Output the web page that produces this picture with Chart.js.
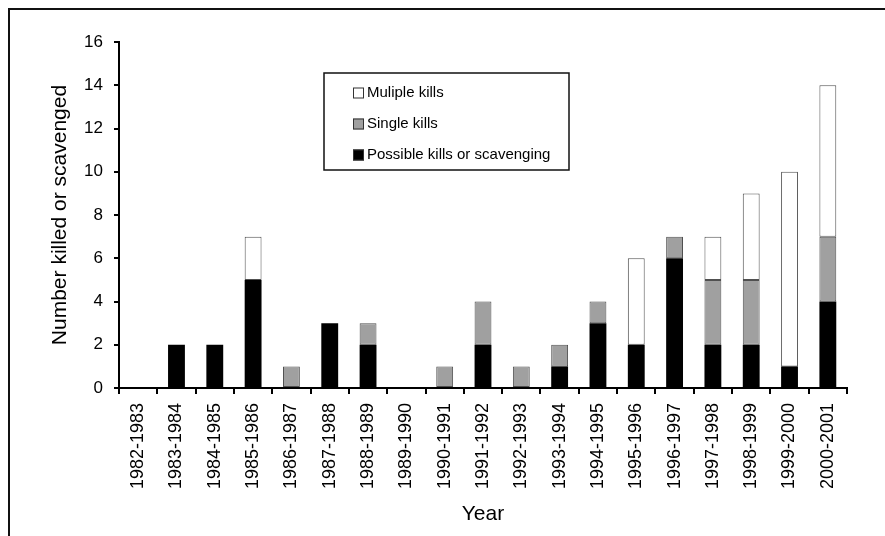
<!DOCTYPE html>
<html>
<head>
<meta charset="utf-8">
<script src="https://cdn.jsdelivr.net/npm/chart.js@4.4.1/dist/chart.umd.min.js"></script>
<style>
  body { margin: 0; background: #fff; }
  #wrap { position: relative; width: 885px; height: 536px; overflow: hidden; }
  #frame { position: absolute; left: 8px; top: 8px; width: 900px; height: 560px;
           border-left: 2px solid #111; border-top: 2px solid #111; pointer-events: none; }
</style>
</head>
<body>
<div id="wrap">
  <canvas id="kills" width="885" height="536"></canvas>
  <div id="frame"></div>
</div>
<script>
const seasons = ['1982-1983', '1983-1984', '1984-1985', '1985-1986', '1986-1987', '1987-1988',
  '1988-1989', '1989-1990', '1990-1991', '1991-1992', '1992-1993', '1993-1994', '1994-1995',
  '1995-1996', '1996-1997', '1997-1998', '1998-1999', '1999-2000', '2000-2001'];

const possibleKills = [0, 2, 2, 5, 0, 3, 2, 0, 0, 2, 0, 1, 3, 2, 6, 2, 2, 1, 4];
const singleKills   = [0, 0, 0, 0, 1, 0, 1, 0, 1, 2, 1, 1, 1, 0, 1, 3, 3, 0, 3];
const multipleKills = [0, 0, 0, 2, 0, 0, 0, 0, 0, 0, 0, 0, 0, 4, 0, 2, 4, 9, 7];

const yTicks = [0, 2, 4, 6, 8, 10, 12, 14, 16];

const font = "'Liberation Sans', Arial, sans-serif";

// legend box drawn inside the plot, like the original figure
const boxLegend = {
  id: 'boxLegend',
  afterDraw(chart) {
    const ctx = chart.ctx;
    const area = chart.chartArea;
    const x = area.left + 205, y = area.top + 31, w = 245, h = 97;
    ctx.save();
    ctx.strokeStyle = '#111';
    ctx.lineWidth = 1.5;
    ctx.strokeRect(x, y, w, h);
    const items = chart.data.datasets.slice().reverse();
    items.forEach((ds, i) => {
      const cy = y + 19.5 + i * 31;
      ctx.fillStyle = ds.backgroundColor;
      ctx.fillRect(x + 29, cy - 5, 11, 11);
      ctx.strokeStyle = '#333';
      ctx.lineWidth = 1;
      ctx.strokeRect(x + 29.5, cy - 4.5, 10, 10);
      ctx.fillStyle = '#000';
      ctx.font = '15px ' + font;
      ctx.textBaseline = 'middle';
      ctx.fillText(ds.label, x + 43, cy + 0.5);
    });
    ctx.restore();
  }
};

function noPad(scale) {
  scale.paddingTop = 0;
  scale.paddingBottom = 0;
  scale.paddingLeft = 0;
  scale.paddingRight = 0;
}

const bar = { borderSkipped: false, barPercentage: 0.44, categoryPercentage: 1 };

new Chart(document.getElementById('kills'), {
  type: 'bar',
  data: {
    labels: seasons,
    datasets: [
      Object.assign({ label: 'Possible kills or scavenging', data: possibleKills,
        backgroundColor: '#000000', borderColor: '#000000', borderWidth: 0 }, bar),
      Object.assign({ label: 'Single kills', data: singleKills,
        backgroundColor: '#a0a0a0', borderColor: '#505050', borderWidth: 1 }, bar),
      Object.assign({ label: 'Muliple kills', data: multipleKills,
        backgroundColor: '#ffffff', borderColor: '#505050', borderWidth: 1 }, bar)
    ]
  },
  options: {
    responsive: false,
    animation: false,
    layout: { padding: { top: 42, right: 38, left: 0, bottom: 0 } },
    plugins: {
      legend: { display: false },
      tooltip: { enabled: false }
    },
    scales: {
      x: {
        stacked: true,
        afterFit(scale) { scale.height = 148; noPad(scale); },
        grid: { drawOnChartArea: false, drawTicks: true, tickLength: 6, color: '#000', lineWidth: 2 },
        border: { color: '#000', width: 2 },
        ticks: {
          color: '#000', font: { family: font, size: 18 },
          minRotation: 90, maxRotation: 90, padding: 9, autoSkip: false
        },
        title: {
          display: true, text: 'Year', color: '#000',
          font: { family: font, size: 21 }, padding: { top: 0, bottom: 9 }
        }
      },
      y: {
        stacked: true,
        min: 0,
        max: 16,
        afterFit(scale) { scale.width = 119; noPad(scale); },
        afterBuildTicks(scale) { scale.ticks = yTicks.map(v => ({ value: v })); },
        grid: { drawOnChartArea: false, drawTicks: true, tickLength: 5, color: '#000', lineWidth: 2 },
        border: { color: '#000', width: 2 },
        ticks: { color: '#000', font: { family: font, size: 17 }, padding: 11 },
        title: {
          display: true, text: 'Number killed or scavenged', color: '#000',
          font: { family: font, size: 21 }, padding: { top: 48, bottom: 0 }
        }
      }
    }
  },
  plugins: [boxLegend]
});
</script>
</body>
</html>
